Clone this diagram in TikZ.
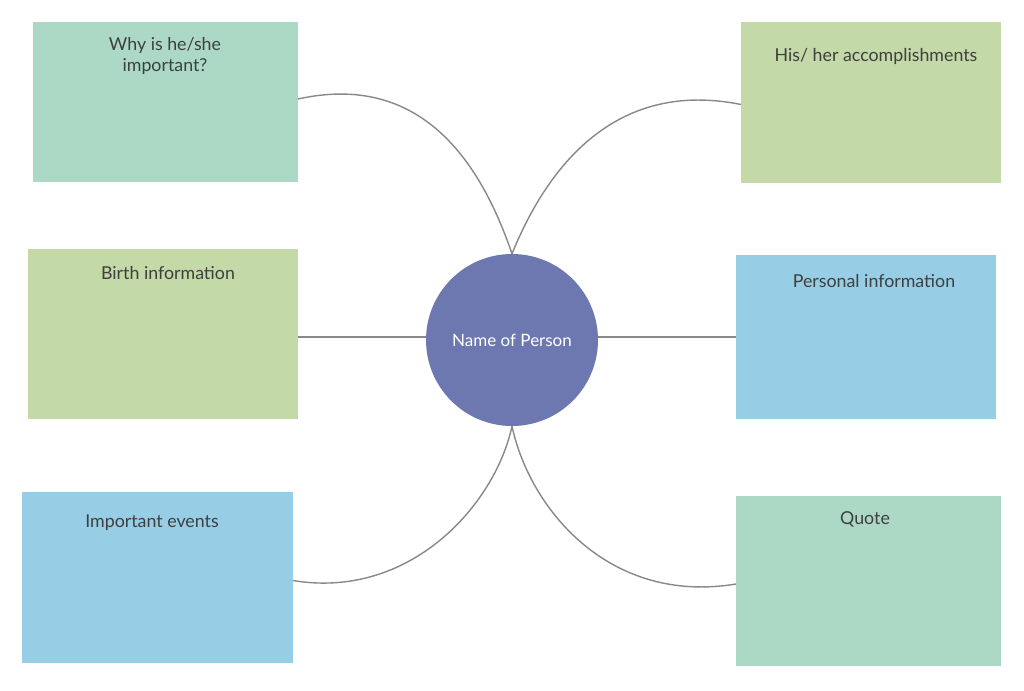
\documentclass[tikz,border=0pt]{standalone}
\usepackage{fontspec}
\setmainfont{Lato}
\usetikzlibrary{positioning}

\definecolor{teal}{HTML}{ABD9C6}
\definecolor{lime}{HTML}{C3D9A7}
\definecolor{sky}{HTML}{97CEE6}
\definecolor{hub}{HTML}{6D78B1}
\definecolor{ink}{HTML}{3F3F3F}
\definecolor{wire}{HTML}{888888}

\tikzset{
	box/.style={rectangle,inner sep=0,outer sep=0},
	title/.style={text=ink,font=\fontsize{17.8}{21}\selectfont,align=center,inner sep=0},
	link/.style={draw=wire,line width=1.4pt},
}

\begin{document}
\begin{tikzpicture}[x=1pt,y=-1pt]

\useasboundingbox (0,0) rectangle (1024,690);

% boxes round the person, with their headings
\foreach \n/\cx/\cy/\w/\h/\col/\lx/\ly/\txt in {
	why/165.5/102/265/160/teal/165/56/{Why is he/she\\important?},
	acc/871/102.5/260/161/lime/876/56/{His/ her accomplishments},
	birth/163/334/270/170/lime/168/273/{Birth information},
	pers/866/337/260/164/sky/874/281/{Personal information},
	events/157.5/577.5/271/171/sky/152/523/{Important events},
	quote/868.5/581/265/170/teal/865/519/{Quote}} {
	\node[box,fill=\col,minimum width=\w pt,minimum height=\h pt] (\n) at (\cx,\cy) {};
	\node[title] (\n-t) at (\lx,\ly) {\txt};
}

\node[circle,fill=hub,minimum size=172pt,inner sep=0,text=white,font=\fontsize{17}{20}\selectfont] (person) at (512,340) {Name of Person};

% connectors
\draw[link] ([yshift=3pt]why.east) .. controls (420,72) and (480,160) .. (person.north);
\draw[link] (person.north) .. controls (550,160) and (620,80) .. ([yshift=-2pt]acc.west);
\draw[link] ([yshift=3pt]birth.east |- person.west) -- ([yshift=3pt]person.west);
\draw[link] ([yshift=3pt]person.east) -- ([yshift=3pt]person.east -| pers.west);
\draw[link] ([yshift=-3pt]events.east) .. controls (410,600) and (495,505) .. (person.south);
\draw[link] (person.south) .. controls (530,510) and (610,605) .. ([yshift=-3pt]quote.west);

\end{tikzpicture}
\end{document}
